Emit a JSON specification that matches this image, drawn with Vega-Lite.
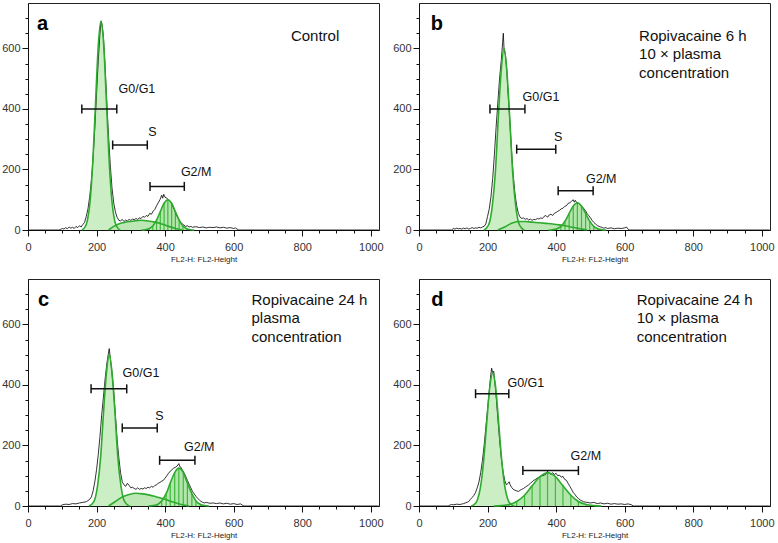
{
"$schema": "https://vega.github.io/schema/vega-lite/v6.json",
"padding": {"left": 1, "top": 2, "right": 0, "bottom": 0},
"background": "white",
"data": {"values": [
{"p":"a","k":"hist","x":0,"y":0},{"p":"a","k":"hist","x":90,"y":0},{"p":"a","k":"hist","x":95,"y":2},{"p":"a","k":"hist","x":100,"y":5},{"p":"a","k":"hist","x":105,"y":3},{"p":"a","k":"hist","x":110,"y":8},{"p":"a","k":"hist","x":115,"y":4},{"p":"a","k":"hist","x":120,"y":10},{"p":"a","k":"hist","x":125,"y":6},{"p":"a","k":"hist","x":130,"y":9},{"p":"a","k":"hist","x":135,"y":5},{"p":"a","k":"hist","x":140,"y":12},{"p":"a","k":"hist","x":145,"y":8},{"p":"a","k":"hist","x":150,"y":14},{"p":"a","k":"hist","x":155,"y":10},{"p":"a","k":"hist","x":160,"y":18},{"p":"a","k":"hist","x":165,"y":25},{"p":"a","k":"hist","x":170,"y":45},{"p":"a","k":"hist","x":175,"y":70},{"p":"a","k":"hist","x":180,"y":110},{"p":"a","k":"hist","x":185,"y":165},{"p":"a","k":"hist","x":190,"y":240},{"p":"a","k":"hist","x":195,"y":340},{"p":"a","k":"hist","x":200,"y":450},{"p":"a","k":"hist","x":205,"y":560},{"p":"a","k":"hist","x":210,"y":650},{"p":"a","k":"hist","x":213,"y":690},{"p":"a","k":"hist","x":216,"y":680},{"p":"a","k":"hist","x":220,"y":640},{"p":"a","k":"hist","x":225,"y":540},{"p":"a","k":"hist","x":230,"y":420},{"p":"a","k":"hist","x":235,"y":310},{"p":"a","k":"hist","x":240,"y":215},{"p":"a","k":"hist","x":245,"y":140},{"p":"a","k":"hist","x":250,"y":90},{"p":"a","k":"hist","x":255,"y":60},{"p":"a","k":"hist","x":260,"y":42},{"p":"a","k":"hist","x":265,"y":32},{"p":"a","k":"hist","x":270,"y":30},{"p":"a","k":"hist","x":275,"y":35},{"p":"a","k":"hist","x":280,"y":28},{"p":"a","k":"hist","x":285,"y":33},{"p":"a","k":"hist","x":290,"y":30},{"p":"a","k":"hist","x":295,"y":35},{"p":"a","k":"hist","x":300,"y":32},{"p":"a","k":"hist","x":305,"y":36},{"p":"a","k":"hist","x":310,"y":34},{"p":"a","k":"hist","x":315,"y":38},{"p":"a","k":"hist","x":320,"y":35},{"p":"a","k":"hist","x":325,"y":40},{"p":"a","k":"hist","x":330,"y":38},{"p":"a","k":"hist","x":335,"y":45},{"p":"a","k":"hist","x":340,"y":42},{"p":"a","k":"hist","x":345,"y":48},{"p":"a","k":"hist","x":350,"y":45},{"p":"a","k":"hist","x":355,"y":55},{"p":"a","k":"hist","x":360,"y":52},{"p":"a","k":"hist","x":365,"y":62},{"p":"a","k":"hist","x":370,"y":68},{"p":"a","k":"hist","x":375,"y":80},{"p":"a","k":"hist","x":380,"y":90},{"p":"a","k":"hist","x":385,"y":100},{"p":"a","k":"hist","x":390,"y":115},{"p":"a","k":"hist","x":393,"y":105},{"p":"a","k":"hist","x":396,"y":118},{"p":"a","k":"hist","x":400,"y":108},{"p":"a","k":"hist","x":405,"y":105},{"p":"a","k":"hist","x":410,"y":100},{"p":"a","k":"hist","x":415,"y":95},{"p":"a","k":"hist","x":420,"y":85},{"p":"a","k":"hist","x":425,"y":72},{"p":"a","k":"hist","x":430,"y":58},{"p":"a","k":"hist","x":435,"y":45},{"p":"a","k":"hist","x":440,"y":35},{"p":"a","k":"hist","x":445,"y":26},{"p":"a","k":"hist","x":450,"y":20},{"p":"a","k":"hist","x":455,"y":16},{"p":"a","k":"hist","x":460,"y":12},{"p":"a","k":"hist","x":465,"y":14},{"p":"a","k":"hist","x":470,"y":10},{"p":"a","k":"hist","x":475,"y":12},{"p":"a","k":"hist","x":480,"y":9},{"p":"a","k":"hist","x":490,"y":11},{"p":"a","k":"hist","x":500,"y":8},{"p":"a","k":"hist","x":510,"y":10},{"p":"a","k":"hist","x":520,"y":7},{"p":"a","k":"hist","x":530,"y":9},{"p":"a","k":"hist","x":540,"y":8},{"p":"a","k":"hist","x":550,"y":10},{"p":"a","k":"hist","x":560,"y":7},{"p":"a","k":"hist","x":570,"y":9},{"p":"a","k":"hist","x":580,"y":6},{"p":"a","k":"hist","x":590,"y":8},{"p":"a","k":"hist","x":600,"y":5},{"p":"a","k":"hist","x":605,"y":7},{"p":"a","k":"hist","x":610,"y":3},{"p":"a","k":"hist","x":615,"y":0},{"p":"a","k":"hist","x":1023,"y":0},
{"p":"a","k":"g1","x":157,"y":0},{"p":"a","k":"g1","x":165,"y":7.7},{"p":"a","k":"g1","x":173,"y":30.3},{"p":"a","k":"g1","x":181,"y":93.4},{"p":"a","k":"g1","x":189,"y":224},{"p":"a","k":"g1","x":197,"y":418.5},{"p":"a","k":"g1","x":205,"y":608.9},{"p":"a","k":"g1","x":213,"y":690},{"p":"a","k":"g1","x":221,"y":608.9},{"p":"a","k":"g1","x":229,"y":418.5},{"p":"a","k":"g1","x":237,"y":224},{"p":"a","k":"g1","x":245,"y":93.4},{"p":"a","k":"g1","x":253,"y":30.3},{"p":"a","k":"g1","x":261,"y":7.7},{"p":"a","k":"g1","x":269,"y":0},
{"p":"a","k":"g2","x":331,"y":0},{"p":"a","k":"g2","x":342,"y":1.1},{"p":"a","k":"g2","x":353,"y":4.4},{"p":"a","k":"g2","x":364,"y":13.5},{"p":"a","k":"g2","x":375,"y":32.5},{"p":"a","k":"g2","x":386,"y":60.7},{"p":"a","k":"g2","x":397,"y":88.3},{"p":"a","k":"g2","x":408,"y":100},{"p":"a","k":"g2","x":419,"y":88.3},{"p":"a","k":"g2","x":430,"y":60.7},{"p":"a","k":"g2","x":441,"y":32.5},{"p":"a","k":"g2","x":452,"y":13.5},{"p":"a","k":"g2","x":463,"y":4.4},{"p":"a","k":"g2","x":474,"y":1.1},{"p":"a","k":"g2","x":485,"y":0},
{"p":"a","k":"s","x":235,"y":0},{"p":"a","k":"s","x":250,"y":12},{"p":"a","k":"s","x":270,"y":22},{"p":"a","k":"s","x":290,"y":27},{"p":"a","k":"s","x":310,"y":30},{"p":"a","k":"s","x":330,"y":32},{"p":"a","k":"s","x":350,"y":30},{"p":"a","k":"s","x":370,"y":26},{"p":"a","k":"s","x":390,"y":20},{"p":"a","k":"s","x":410,"y":12},{"p":"a","k":"s","x":430,"y":5},{"p":"a","k":"s","x":450,"y":0},
{"p":"a","k":"bar","x":157,"x2":259,"y":400},{"p":"a","k":"bar","x":247,"x2":348,"y":281},{"p":"a","k":"bar","x":356,"x2":456,"y":144},
{"p":"a","k":"lab","x":264,"y":465,"t":"G0/G1"},{"p":"a","k":"lab","x":351,"y":324,"t":"S"},{"p":"a","k":"lab","x":446,"y":190,"t":"G2/M"},
{"p":"a","k":"ttl","x":767,"y":640,"t":"Control"},
{"p":"a","k":"let","x":26,"y":662,"t":"a"},

{"p":"b","k":"hist","x":0,"y":0},{"p":"b","k":"hist","x":95,"y":0},{"p":"b","k":"hist","x":100,"y":5},{"p":"b","k":"hist","x":105,"y":3},{"p":"b","k":"hist","x":110,"y":6},{"p":"b","k":"hist","x":115,"y":4},{"p":"b","k":"hist","x":120,"y":5},{"p":"b","k":"hist","x":125,"y":3},{"p":"b","k":"hist","x":130,"y":6},{"p":"b","k":"hist","x":135,"y":4},{"p":"b","k":"hist","x":140,"y":7},{"p":"b","k":"hist","x":145,"y":3},{"p":"b","k":"hist","x":150,"y":5},{"p":"b","k":"hist","x":155,"y":8},{"p":"b","k":"hist","x":160,"y":5},{"p":"b","k":"hist","x":165,"y":7},{"p":"b","k":"hist","x":170,"y":6},{"p":"b","k":"hist","x":175,"y":9},{"p":"b","k":"hist","x":180,"y":7},{"p":"b","k":"hist","x":185,"y":10},{"p":"b","k":"hist","x":190,"y":12},{"p":"b","k":"hist","x":195,"y":20},{"p":"b","k":"hist","x":200,"y":45},{"p":"b","k":"hist","x":205,"y":70},{"p":"b","k":"hist","x":210,"y":110},{"p":"b","k":"hist","x":215,"y":170},{"p":"b","k":"hist","x":220,"y":250},{"p":"b","k":"hist","x":225,"y":340},{"p":"b","k":"hist","x":230,"y":420},{"p":"b","k":"hist","x":235,"y":500},{"p":"b","k":"hist","x":240,"y":560},{"p":"b","k":"hist","x":244,"y":620},{"p":"b","k":"hist","x":246,"y":650},{"p":"b","k":"hist","x":248,"y":600},{"p":"b","k":"hist","x":252,"y":580},{"p":"b","k":"hist","x":256,"y":530},{"p":"b","k":"hist","x":260,"y":450},{"p":"b","k":"hist","x":265,"y":360},{"p":"b","k":"hist","x":270,"y":260},{"p":"b","k":"hist","x":275,"y":180},{"p":"b","k":"hist","x":280,"y":120},{"p":"b","k":"hist","x":285,"y":80},{"p":"b","k":"hist","x":290,"y":55},{"p":"b","k":"hist","x":295,"y":42},{"p":"b","k":"hist","x":300,"y":38},{"p":"b","k":"hist","x":305,"y":40},{"p":"b","k":"hist","x":310,"y":35},{"p":"b","k":"hist","x":315,"y":38},{"p":"b","k":"hist","x":320,"y":33},{"p":"b","k":"hist","x":325,"y":36},{"p":"b","k":"hist","x":330,"y":32},{"p":"b","k":"hist","x":335,"y":35},{"p":"b","k":"hist","x":340,"y":34},{"p":"b","k":"hist","x":345,"y":38},{"p":"b","k":"hist","x":350,"y":36},{"p":"b","k":"hist","x":355,"y":40},{"p":"b","k":"hist","x":360,"y":38},{"p":"b","k":"hist","x":365,"y":45},{"p":"b","k":"hist","x":370,"y":48},{"p":"b","k":"hist","x":375,"y":42},{"p":"b","k":"hist","x":380,"y":50},{"p":"b","k":"hist","x":385,"y":52},{"p":"b","k":"hist","x":390,"y":48},{"p":"b","k":"hist","x":395,"y":55},{"p":"b","k":"hist","x":400,"y":58},{"p":"b","k":"hist","x":405,"y":62},{"p":"b","k":"hist","x":410,"y":65},{"p":"b","k":"hist","x":415,"y":70},{"p":"b","k":"hist","x":420,"y":72},{"p":"b","k":"hist","x":425,"y":78},{"p":"b","k":"hist","x":430,"y":80},{"p":"b","k":"hist","x":435,"y":88},{"p":"b","k":"hist","x":440,"y":90},{"p":"b","k":"hist","x":445,"y":95},{"p":"b","k":"hist","x":450,"y":100},{"p":"b","k":"hist","x":453,"y":92},{"p":"b","k":"hist","x":456,"y":98},{"p":"b","k":"hist","x":460,"y":90},{"p":"b","k":"hist","x":465,"y":88},{"p":"b","k":"hist","x":470,"y":85},{"p":"b","k":"hist","x":475,"y":78},{"p":"b","k":"hist","x":480,"y":72},{"p":"b","k":"hist","x":485,"y":65},{"p":"b","k":"hist","x":490,"y":55},{"p":"b","k":"hist","x":495,"y":48},{"p":"b","k":"hist","x":500,"y":40},{"p":"b","k":"hist","x":505,"y":32},{"p":"b","k":"hist","x":510,"y":25},{"p":"b","k":"hist","x":515,"y":20},{"p":"b","k":"hist","x":520,"y":15},{"p":"b","k":"hist","x":525,"y":12},{"p":"b","k":"hist","x":530,"y":10},{"p":"b","k":"hist","x":535,"y":8},{"p":"b","k":"hist","x":540,"y":6},{"p":"b","k":"hist","x":545,"y":8},{"p":"b","k":"hist","x":550,"y":5},{"p":"b","k":"hist","x":560,"y":7},{"p":"b","k":"hist","x":570,"y":4},{"p":"b","k":"hist","x":580,"y":6},{"p":"b","k":"hist","x":590,"y":5},{"p":"b","k":"hist","x":600,"y":7},{"p":"b","k":"hist","x":605,"y":10},{"p":"b","k":"hist","x":610,"y":3},{"p":"b","k":"hist","x":612,"y":0},{"p":"b","k":"hist","x":1023,"y":0},
{"p":"b","k":"g1","x":189,"y":0},{"p":"b","k":"g1","x":197,"y":6.7},{"p":"b","k":"g1","x":206,"y":26.3},{"p":"b","k":"g1","x":214,"y":81.2},{"p":"b","k":"g1","x":223,"y":194.8},{"p":"b","k":"g1","x":231,"y":363.9},{"p":"b","k":"g1","x":240,"y":529.5},{"p":"b","k":"g1","x":248,"y":600},{"p":"b","k":"g1","x":256,"y":529.5},{"p":"b","k":"g1","x":265,"y":363.9},{"p":"b","k":"g1","x":273,"y":194.8},{"p":"b","k":"g1","x":282,"y":81.2},{"p":"b","k":"g1","x":290,"y":26.3},{"p":"b","k":"g1","x":299,"y":6.7},{"p":"b","k":"g1","x":307,"y":0},
{"p":"b","k":"g2","x":378,"y":0},{"p":"b","k":"g2","x":390,"y":1},{"p":"b","k":"g2","x":402,"y":4},{"p":"b","k":"g2","x":414,"y":12.2},{"p":"b","k":"g2","x":426,"y":29.2},{"p":"b","k":"g2","x":438,"y":54.6},{"p":"b","k":"g2","x":450,"y":79.4},{"p":"b","k":"g2","x":462,"y":90},{"p":"b","k":"g2","x":474,"y":79.4},{"p":"b","k":"g2","x":486,"y":54.6},{"p":"b","k":"g2","x":498,"y":29.2},{"p":"b","k":"g2","x":510,"y":12.2},{"p":"b","k":"g2","x":522,"y":4},{"p":"b","k":"g2","x":534,"y":1},{"p":"b","k":"g2","x":546,"y":0},
{"p":"b","k":"s","x":230,"y":0},{"p":"b","k":"s","x":250,"y":10},{"p":"b","k":"s","x":270,"y":22},{"p":"b","k":"s","x":290,"y":28},{"p":"b","k":"s","x":310,"y":28},{"p":"b","k":"s","x":330,"y":26},{"p":"b","k":"s","x":350,"y":24},{"p":"b","k":"s","x":370,"y":22},{"p":"b","k":"s","x":390,"y":20},{"p":"b","k":"s","x":410,"y":17},{"p":"b","k":"s","x":430,"y":13},{"p":"b","k":"s","x":450,"y":8},{"p":"b","k":"s","x":470,"y":4},{"p":"b","k":"s","x":490,"y":0},
{"p":"b","k":"bar","x":207,"x2":309,"y":400},{"p":"b","k":"bar","x":285,"x2":399,"y":267},{"p":"b","k":"bar","x":406,"x2":508,"y":130},
{"p":"b","k":"lab","x":302,"y":440,"t":"G0/G1"},{"p":"b","k":"lab","x":394,"y":307,"t":"S"},{"p":"b","k":"lab","x":487,"y":168,"t":"G2/M"},
{"p":"b","k":"ttl","x":642,"y":640,"t":"Ropivacaine 6 h"},{"p":"b","k":"ttl","x":642,"y":580,"t":"10 × plasma"},{"p":"b","k":"ttl","x":642,"y":520,"t":"concentration"},
{"p":"b","k":"let","x":34,"y":662,"t":"b"},

{"p":"c","k":"hist","x":0,"y":0},{"p":"c","k":"hist","x":95,"y":0},{"p":"c","k":"hist","x":100,"y":4},{"p":"c","k":"hist","x":110,"y":6},{"p":"c","k":"hist","x":120,"y":5},{"p":"c","k":"hist","x":130,"y":8},{"p":"c","k":"hist","x":140,"y":7},{"p":"c","k":"hist","x":150,"y":10},{"p":"c","k":"hist","x":160,"y":12},{"p":"c","k":"hist","x":170,"y":14},{"p":"c","k":"hist","x":175,"y":18},{"p":"c","k":"hist","x":180,"y":22},{"p":"c","k":"hist","x":185,"y":30},{"p":"c","k":"hist","x":190,"y":50},{"p":"c","k":"hist","x":195,"y":80},{"p":"c","k":"hist","x":200,"y":120},{"p":"c","k":"hist","x":205,"y":170},{"p":"c","k":"hist","x":210,"y":230},{"p":"c","k":"hist","x":215,"y":300},{"p":"c","k":"hist","x":220,"y":360},{"p":"c","k":"hist","x":225,"y":420},{"p":"c","k":"hist","x":230,"y":470},{"p":"c","k":"hist","x":234,"y":500},{"p":"c","k":"hist","x":237,"y":520},{"p":"c","k":"hist","x":240,"y":490},{"p":"c","k":"hist","x":245,"y":440},{"p":"c","k":"hist","x":250,"y":380},{"p":"c","k":"hist","x":255,"y":300},{"p":"c","k":"hist","x":260,"y":220},{"p":"c","k":"hist","x":265,"y":160},{"p":"c","k":"hist","x":270,"y":110},{"p":"c","k":"hist","x":275,"y":80},{"p":"c","k":"hist","x":280,"y":70},{"p":"c","k":"hist","x":285,"y":65},{"p":"c","k":"hist","x":290,"y":75},{"p":"c","k":"hist","x":295,"y":68},{"p":"c","k":"hist","x":300,"y":60},{"p":"c","k":"hist","x":305,"y":62},{"p":"c","k":"hist","x":310,"y":58},{"p":"c","k":"hist","x":315,"y":55},{"p":"c","k":"hist","x":320,"y":60},{"p":"c","k":"hist","x":325,"y":55},{"p":"c","k":"hist","x":330,"y":58},{"p":"c","k":"hist","x":335,"y":56},{"p":"c","k":"hist","x":340,"y":60},{"p":"c","k":"hist","x":345,"y":58},{"p":"c","k":"hist","x":350,"y":62},{"p":"c","k":"hist","x":355,"y":60},{"p":"c","k":"hist","x":360,"y":65},{"p":"c","k":"hist","x":365,"y":62},{"p":"c","k":"hist","x":370,"y":68},{"p":"c","k":"hist","x":375,"y":70},{"p":"c","k":"hist","x":380,"y":75},{"p":"c","k":"hist","x":385,"y":78},{"p":"c","k":"hist","x":390,"y":82},{"p":"c","k":"hist","x":395,"y":85},{"p":"c","k":"hist","x":400,"y":92},{"p":"c","k":"hist","x":405,"y":100},{"p":"c","k":"hist","x":410,"y":108},{"p":"c","k":"hist","x":415,"y":115},{"p":"c","k":"hist","x":420,"y":120},{"p":"c","k":"hist","x":425,"y":125},{"p":"c","k":"hist","x":430,"y":128},{"p":"c","k":"hist","x":435,"y":132},{"p":"c","k":"hist","x":440,"y":140},{"p":"c","k":"hist","x":443,"y":130},{"p":"c","k":"hist","x":446,"y":128},{"p":"c","k":"hist","x":450,"y":120},{"p":"c","k":"hist","x":455,"y":110},{"p":"c","k":"hist","x":460,"y":98},{"p":"c","k":"hist","x":465,"y":85},{"p":"c","k":"hist","x":470,"y":72},{"p":"c","k":"hist","x":475,"y":60},{"p":"c","k":"hist","x":480,"y":48},{"p":"c","k":"hist","x":485,"y":40},{"p":"c","k":"hist","x":490,"y":32},{"p":"c","k":"hist","x":495,"y":25},{"p":"c","k":"hist","x":500,"y":20},{"p":"c","k":"hist","x":505,"y":15},{"p":"c","k":"hist","x":510,"y":12},{"p":"c","k":"hist","x":515,"y":10},{"p":"c","k":"hist","x":520,"y":12},{"p":"c","k":"hist","x":530,"y":9},{"p":"c","k":"hist","x":540,"y":10},{"p":"c","k":"hist","x":550,"y":8},{"p":"c","k":"hist","x":560,"y":10},{"p":"c","k":"hist","x":570,"y":7},{"p":"c","k":"hist","x":580,"y":9},{"p":"c","k":"hist","x":590,"y":6},{"p":"c","k":"hist","x":600,"y":8},{"p":"c","k":"hist","x":610,"y":5},{"p":"c","k":"hist","x":620,"y":7},{"p":"c","k":"hist","x":625,"y":3},{"p":"c","k":"hist","x":630,"y":0},{"p":"c","k":"hist","x":1023,"y":0},
{"p":"c","k":"g1","x":178,"y":0},{"p":"c","k":"g1","x":186,"y":5.6},{"p":"c","k":"g1","x":195,"y":22},{"p":"c","k":"g1","x":203,"y":67.7},{"p":"c","k":"g1","x":212,"y":162.4},{"p":"c","k":"g1","x":220,"y":303.3},{"p":"c","k":"g1","x":229,"y":441.3},{"p":"c","k":"g1","x":237,"y":500},{"p":"c","k":"g1","x":245,"y":441.3},{"p":"c","k":"g1","x":254,"y":303.3},{"p":"c","k":"g1","x":262,"y":162.4},{"p":"c","k":"g1","x":271,"y":67.7},{"p":"c","k":"g1","x":279,"y":22},{"p":"c","k":"g1","x":288,"y":5.6},{"p":"c","k":"g1","x":296,"y":0},
{"p":"c","k":"g2","x":352,"y":0},{"p":"c","k":"g2","x":365,"y":1.4},{"p":"c","k":"g2","x":378,"y":5.5},{"p":"c","k":"g2","x":390,"y":16.9},{"p":"c","k":"g2","x":403,"y":40.6},{"p":"c","k":"g2","x":415,"y":75.8},{"p":"c","k":"g2","x":428,"y":110.3},{"p":"c","k":"g2","x":440,"y":125},{"p":"c","k":"g2","x":453,"y":110.3},{"p":"c","k":"g2","x":465,"y":75.8},{"p":"c","k":"g2","x":478,"y":40.6},{"p":"c","k":"g2","x":490,"y":16.9},{"p":"c","k":"g2","x":503,"y":5.5},{"p":"c","k":"g2","x":515,"y":1.4},{"p":"c","k":"g2","x":528,"y":0},
{"p":"c","k":"s","x":235,"y":0},{"p":"c","k":"s","x":255,"y":15},{"p":"c","k":"s","x":275,"y":30},{"p":"c","k":"s","x":295,"y":38},{"p":"c","k":"s","x":315,"y":42},{"p":"c","k":"s","x":335,"y":40},{"p":"c","k":"s","x":355,"y":36},{"p":"c","k":"s","x":375,"y":30},{"p":"c","k":"s","x":395,"y":24},{"p":"c","k":"s","x":415,"y":16},{"p":"c","k":"s","x":435,"y":9},{"p":"c","k":"s","x":455,"y":3},{"p":"c","k":"s","x":470,"y":0},
{"p":"c","k":"bar","x":184,"x2":288,"y":387},{"p":"c","k":"bar","x":275,"x2":377,"y":258},{"p":"c","k":"bar","x":384,"x2":487,"y":151},
{"p":"c","k":"lab","x":276,"y":439,"t":"G0/G1"},{"p":"c","k":"lab","x":371,"y":296,"t":"S"},{"p":"c","k":"lab","x":455,"y":195,"t":"G2/M"},
{"p":"c","k":"ttl","x":652,"y":680,"t":"Ropivacaine 24 h"},{"p":"c","k":"ttl","x":652,"y":620,"t":"plasma"},{"p":"c","k":"ttl","x":652,"y":560,"t":"concentration"},
{"p":"c","k":"let","x":29,"y":660,"t":"c"},

{"p":"d","k":"hist","x":0,"y":0},{"p":"d","k":"hist","x":85,"y":0},{"p":"d","k":"hist","x":90,"y":3},{"p":"d","k":"hist","x":95,"y":5},{"p":"d","k":"hist","x":100,"y":4},{"p":"d","k":"hist","x":110,"y":6},{"p":"d","k":"hist","x":120,"y":5},{"p":"d","k":"hist","x":130,"y":8},{"p":"d","k":"hist","x":140,"y":12},{"p":"d","k":"hist","x":145,"y":15},{"p":"d","k":"hist","x":150,"y":22},{"p":"d","k":"hist","x":155,"y":28},{"p":"d","k":"hist","x":160,"y":35},{"p":"d","k":"hist","x":165,"y":45},{"p":"d","k":"hist","x":170,"y":60},{"p":"d","k":"hist","x":175,"y":80},{"p":"d","k":"hist","x":180,"y":110},{"p":"d","k":"hist","x":185,"y":150},{"p":"d","k":"hist","x":190,"y":200},{"p":"d","k":"hist","x":195,"y":260},{"p":"d","k":"hist","x":200,"y":320},{"p":"d","k":"hist","x":205,"y":380},{"p":"d","k":"hist","x":209,"y":430},{"p":"d","k":"hist","x":212,"y":455},{"p":"d","k":"hist","x":215,"y":440},{"p":"d","k":"hist","x":218,"y":445},{"p":"d","k":"hist","x":222,"y":400},{"p":"d","k":"hist","x":226,"y":350},{"p":"d","k":"hist","x":230,"y":290},{"p":"d","k":"hist","x":235,"y":220},{"p":"d","k":"hist","x":240,"y":160},{"p":"d","k":"hist","x":245,"y":115},{"p":"d","k":"hist","x":250,"y":85},{"p":"d","k":"hist","x":255,"y":70},{"p":"d","k":"hist","x":260,"y":75},{"p":"d","k":"hist","x":263,"y":80},{"p":"d","k":"hist","x":266,"y":70},{"p":"d","k":"hist","x":270,"y":62},{"p":"d","k":"hist","x":275,"y":55},{"p":"d","k":"hist","x":280,"y":52},{"p":"d","k":"hist","x":285,"y":50},{"p":"d","k":"hist","x":290,"y":48},{"p":"d","k":"hist","x":295,"y":52},{"p":"d","k":"hist","x":300,"y":55},{"p":"d","k":"hist","x":305,"y":58},{"p":"d","k":"hist","x":310,"y":62},{"p":"d","k":"hist","x":315,"y":66},{"p":"d","k":"hist","x":320,"y":70},{"p":"d","k":"hist","x":325,"y":75},{"p":"d","k":"hist","x":330,"y":80},{"p":"d","k":"hist","x":335,"y":85},{"p":"d","k":"hist","x":340,"y":88},{"p":"d","k":"hist","x":345,"y":92},{"p":"d","k":"hist","x":350,"y":95},{"p":"d","k":"hist","x":355,"y":98},{"p":"d","k":"hist","x":360,"y":100},{"p":"d","k":"hist","x":365,"y":102},{"p":"d","k":"hist","x":370,"y":105},{"p":"d","k":"hist","x":375,"y":115},{"p":"d","k":"hist","x":380,"y":108},{"p":"d","k":"hist","x":385,"y":105},{"p":"d","k":"hist","x":390,"y":110},{"p":"d","k":"hist","x":395,"y":104},{"p":"d","k":"hist","x":400,"y":108},{"p":"d","k":"hist","x":405,"y":100},{"p":"d","k":"hist","x":410,"y":102},{"p":"d","k":"hist","x":415,"y":95},{"p":"d","k":"hist","x":420,"y":98},{"p":"d","k":"hist","x":425,"y":88},{"p":"d","k":"hist","x":430,"y":85},{"p":"d","k":"hist","x":435,"y":75},{"p":"d","k":"hist","x":440,"y":65},{"p":"d","k":"hist","x":445,"y":55},{"p":"d","k":"hist","x":450,"y":45},{"p":"d","k":"hist","x":455,"y":38},{"p":"d","k":"hist","x":460,"y":30},{"p":"d","k":"hist","x":465,"y":25},{"p":"d","k":"hist","x":470,"y":20},{"p":"d","k":"hist","x":475,"y":17},{"p":"d","k":"hist","x":480,"y":14},{"p":"d","k":"hist","x":490,"y":12},{"p":"d","k":"hist","x":500,"y":10},{"p":"d","k":"hist","x":510,"y":12},{"p":"d","k":"hist","x":520,"y":8},{"p":"d","k":"hist","x":530,"y":10},{"p":"d","k":"hist","x":540,"y":7},{"p":"d","k":"hist","x":550,"y":9},{"p":"d","k":"hist","x":560,"y":6},{"p":"d","k":"hist","x":570,"y":8},{"p":"d","k":"hist","x":580,"y":6},{"p":"d","k":"hist","x":590,"y":7},{"p":"d","k":"hist","x":600,"y":5},{"p":"d","k":"hist","x":610,"y":7},{"p":"d","k":"hist","x":620,"y":4},{"p":"d","k":"hist","x":625,"y":0},{"p":"d","k":"hist","x":1023,"y":0},
{"p":"d","k":"g1","x":152,"y":0},{"p":"d","k":"g1","x":161,"y":4.9},{"p":"d","k":"g1","x":170,"y":19.3},{"p":"d","k":"g1","x":179,"y":59.5},{"p":"d","k":"g1","x":188,"y":142.9},{"p":"d","k":"g1","x":197,"y":266.9},{"p":"d","k":"g1","x":206,"y":388.3},{"p":"d","k":"g1","x":215,"y":440},{"p":"d","k":"g1","x":224,"y":388.3},{"p":"d","k":"g1","x":233,"y":266.9},{"p":"d","k":"g1","x":242,"y":142.9},{"p":"d","k":"g1","x":251,"y":59.5},{"p":"d","k":"g1","x":260,"y":19.3},{"p":"d","k":"g1","x":269,"y":4.9},{"p":"d","k":"g1","x":278,"y":0},
{"p":"d","k":"g2","x":218,"y":0},{"p":"d","k":"g2","x":240,"y":1.2},{"p":"d","k":"g2","x":263,"y":4.8},{"p":"d","k":"g2","x":285,"y":14.9},{"p":"d","k":"g2","x":308,"y":35.7},{"p":"d","k":"g2","x":330,"y":66.7},{"p":"d","k":"g2","x":353,"y":97.1},{"p":"d","k":"g2","x":375,"y":110},{"p":"d","k":"g2","x":398,"y":97.1},{"p":"d","k":"g2","x":420,"y":66.7},{"p":"d","k":"g2","x":443,"y":35.7},{"p":"d","k":"g2","x":465,"y":14.9},{"p":"d","k":"g2","x":488,"y":4.8},{"p":"d","k":"g2","x":510,"y":1.2},{"p":"d","k":"g2","x":532,"y":0},
{"p":"d","k":"bar","x":165,"x2":262,"y":371},{"p":"d","k":"bar","x":303,"x2":465,"y":117},
{"p":"d","k":"lab","x":258,"y":405,"t":"G0/G1"},{"p":"d","k":"lab","x":442,"y":164,"t":"G2/M"},
{"p":"d","k":"ttl","x":635,"y":680,"t":"Ropivacaine 24 h"},{"p":"d","k":"ttl","x":635,"y":620,"t":"10 × plasma"},{"p":"d","k":"ttl","x":635,"y":560,"t":"concentration"},
{"p":"d","k":"let","x":36,"y":660,"t":"d"}
]},
"spacing": 14,
"vconcat": [
 {"spacing": 8, "hconcat": [
  {"transform": [{"filter": "datum.p === 'a'"}], "width": 351, "height": 227,
   "encoding": {
    "x": {"field": "x", "type": "quantitative", "scale": {"domain": [0, 1024], "nice": false},
      "axis": {"title": "FL2-H: FL2-Height", "values": [0,50,100,150,200,250,300,350,400,450,500,550,600,650,700,750,800,850,900,950,1000], "format": "d",
        "labelExpr": "datum.value % 200 === 0 ? datum.label : ''",
        "tickSize": {"condition": {"test": "datum.value % 200 === 0", "value": 6}, "value": 3}}},
    "y": {"field": "y", "type": "quantitative", "scale": {"domain": [0, 750], "nice": false},
      "axis": {"title": null, "values": [0,50,100,150,200,250,300,350,400,450,500,550,600,650,700], "format": "d",
        "labelExpr": "datum.value % 200 === 0 ? datum.label : ''",
        "tickSize": {"condition": {"test": "datum.value % 200 === 0", "value": 6}, "value": 3}}}
   },
   "layer": [
    {"transform": [{"filter": "datum.k === 's' || datum.k === 'g1' || datum.k === 'g2'"}],
     "mark": {"type": "area", "interpolate": "monotone", "fillOpacity": 1},
     "encoding": {"y": {"field": "y", "type": "quantitative", "stack": null},
       "color": {"field": "k", "type": "nominal", "legend": null, "scale": {"domain": ["s", "g1", "g2"], "range": ["#bde8b5", "#cbeec5", "#b3e6ac"]}}}},
    {"transform": [{"filter": "datum.k === 'g2'"}], "mark": {"type": "rule", "color": "#3fb83b", "strokeWidth": 1.2}, "encoding": {"y2": {"datum": 0}}},
    {"transform": [{"filter": "datum.k === 'hist'"}], "mark": {"type": "line", "color": "#000000", "strokeWidth": 0.8}, "encoding": {}},
    {"transform": [{"filter": "datum.k === 's' || datum.k === 'g1' || datum.k === 'g2'"}],
     "mark": {"type": "line", "interpolate": "monotone", "color": "#2eaa2e", "strokeWidth": 1.6}, "encoding": {"detail": {"field": "k", "type": "nominal"}}},
    {"transform": [{"filter": "datum.k === 'bar'"}], "mark": {"type": "rule", "color": "#111111", "strokeWidth": 1.5}, "encoding": {"x2": {"field": "x2"}}},
    {"transform": [{"filter": "datum.k === 'bar'"}], "mark": {"type": "point", "shape": "M0,-1L0,1", "size": 81, "filled": false, "stroke": "#111111", "strokeWidth": 1.5, "opacity": 1}, "encoding": {}},
    {"transform": [{"filter": "datum.k === 'bar'"}], "mark": {"type": "point", "shape": "M0,-1L0,1", "size": 81, "filled": false, "stroke": "#111111", "strokeWidth": 1.5, "opacity": 1},
     "encoding": {"x": {"field": "x2", "type": "quantitative", "title": "FL2-H: FL2-Height"}}},
    {"transform": [{"filter": "datum.k === 'lab'"}], "mark": {"type": "text", "align": "left", "baseline": "middle", "fontSize": 12.5, "font": "Liberation Sans", "color": "#111111"}, "encoding": {"text": {"field": "t", "type": "nominal"}}},
    {"transform": [{"filter": "datum.k === 'ttl'"}], "mark": {"type": "text", "align": "left", "baseline": "middle", "fontSize": 15, "font": "Liberation Sans", "color": "#111111"}, "encoding": {"text": {"field": "t", "type": "nominal"}}},
    {"transform": [{"filter": "datum.k === 'let'"}], "mark": {"type": "text", "align": "left", "baseline": "alphabetic", "fontSize": 20, "fontWeight": "bold", "font": "Liberation Sans", "color": "#000000"}, "encoding": {"text": {"field": "t", "type": "nominal"}}}
   ]},
  {"transform": [{"filter": "datum.p === 'b'"}], "width": 351, "height": 227,
   "encoding": {
    "x": {"field": "x", "type": "quantitative", "scale": {"domain": [0, 1024], "nice": false},
      "axis": {"title": "FL2-H: FL2-Height", "values": [0,50,100,150,200,250,300,350,400,450,500,550,600,650,700,750,800,850,900,950,1000], "format": "d",
        "labelExpr": "datum.value % 200 === 0 ? datum.label : ''",
        "tickSize": {"condition": {"test": "datum.value % 200 === 0", "value": 6}, "value": 3}}},
    "y": {"field": "y", "type": "quantitative", "scale": {"domain": [0, 750], "nice": false},
      "axis": {"title": null, "values": [0,50,100,150,200,250,300,350,400,450,500,550,600,650,700], "format": "d",
        "labelExpr": "datum.value % 200 === 0 ? datum.label : ''",
        "tickSize": {"condition": {"test": "datum.value % 200 === 0", "value": 6}, "value": 3}}}
   },
   "layer": [
    {"transform": [{"filter": "datum.k === 's' || datum.k === 'g1' || datum.k === 'g2'"}],
     "mark": {"type": "area", "interpolate": "monotone", "fillOpacity": 1},
     "encoding": {"y": {"field": "y", "type": "quantitative", "stack": null},
       "color": {"field": "k", "type": "nominal", "legend": null, "scale": {"domain": ["s", "g1", "g2"], "range": ["#bde8b5", "#cbeec5", "#b3e6ac"]}}}},
    {"transform": [{"filter": "datum.k === 'g2'"}], "mark": {"type": "rule", "color": "#3fb83b", "strokeWidth": 1.2}, "encoding": {"y2": {"datum": 0}}},
    {"transform": [{"filter": "datum.k === 'hist'"}], "mark": {"type": "line", "color": "#000000", "strokeWidth": 0.8}, "encoding": {}},
    {"transform": [{"filter": "datum.k === 's' || datum.k === 'g1' || datum.k === 'g2'"}],
     "mark": {"type": "line", "interpolate": "monotone", "color": "#2eaa2e", "strokeWidth": 1.6}, "encoding": {"detail": {"field": "k", "type": "nominal"}}},
    {"transform": [{"filter": "datum.k === 'bar'"}], "mark": {"type": "rule", "color": "#111111", "strokeWidth": 1.5}, "encoding": {"x2": {"field": "x2"}}},
    {"transform": [{"filter": "datum.k === 'bar'"}], "mark": {"type": "point", "shape": "M0,-1L0,1", "size": 81, "filled": false, "stroke": "#111111", "strokeWidth": 1.5, "opacity": 1}, "encoding": {}},
    {"transform": [{"filter": "datum.k === 'bar'"}], "mark": {"type": "point", "shape": "M0,-1L0,1", "size": 81, "filled": false, "stroke": "#111111", "strokeWidth": 1.5, "opacity": 1},
     "encoding": {"x": {"field": "x2", "type": "quantitative", "title": "FL2-H: FL2-Height"}}},
    {"transform": [{"filter": "datum.k === 'lab'"}], "mark": {"type": "text", "align": "left", "baseline": "middle", "fontSize": 12.5, "font": "Liberation Sans", "color": "#111111"}, "encoding": {"text": {"field": "t", "type": "nominal"}}},
    {"transform": [{"filter": "datum.k === 'ttl'"}], "mark": {"type": "text", "align": "left", "baseline": "middle", "fontSize": 15, "font": "Liberation Sans", "color": "#111111"}, "encoding": {"text": {"field": "t", "type": "nominal"}}},
    {"transform": [{"filter": "datum.k === 'let'"}], "mark": {"type": "text", "align": "left", "baseline": "alphabetic", "fontSize": 20, "fontWeight": "bold", "font": "Liberation Sans", "color": "#000000"}, "encoding": {"text": {"field": "t", "type": "nominal"}}}
   ]}
 ]},
 {"spacing": 8, "hconcat": [
  {"transform": [{"filter": "datum.p === 'c'"}], "width": 351, "height": 227,
   "encoding": {
    "x": {"field": "x", "type": "quantitative", "scale": {"domain": [0, 1024], "nice": false},
      "axis": {"title": "FL2-H: FL2-Height", "values": [0,50,100,150,200,250,300,350,400,450,500,550,600,650,700,750,800,850,900,950,1000], "format": "d",
        "labelExpr": "datum.value % 200 === 0 ? datum.label : ''",
        "tickSize": {"condition": {"test": "datum.value % 200 === 0", "value": 6}, "value": 3}}},
    "y": {"field": "y", "type": "quantitative", "scale": {"domain": [0, 750], "nice": false},
      "axis": {"title": null, "values": [0,50,100,150,200,250,300,350,400,450,500,550,600,650,700], "format": "d",
        "labelExpr": "datum.value % 200 === 0 ? datum.label : ''",
        "tickSize": {"condition": {"test": "datum.value % 200 === 0", "value": 6}, "value": 3}}}
   },
   "layer": [
    {"transform": [{"filter": "datum.k === 's' || datum.k === 'g1' || datum.k === 'g2'"}],
     "mark": {"type": "area", "interpolate": "monotone", "fillOpacity": 1},
     "encoding": {"y": {"field": "y", "type": "quantitative", "stack": null},
       "color": {"field": "k", "type": "nominal", "legend": null, "scale": {"domain": ["s", "g1", "g2"], "range": ["#bde8b5", "#cbeec5", "#b3e6ac"]}}}},
    {"transform": [{"filter": "datum.k === 'g2'"}], "mark": {"type": "rule", "color": "#3fb83b", "strokeWidth": 1.2}, "encoding": {"y2": {"datum": 0}}},
    {"transform": [{"filter": "datum.k === 'hist'"}], "mark": {"type": "line", "color": "#000000", "strokeWidth": 0.8}, "encoding": {}},
    {"transform": [{"filter": "datum.k === 's' || datum.k === 'g1' || datum.k === 'g2'"}],
     "mark": {"type": "line", "interpolate": "monotone", "color": "#2eaa2e", "strokeWidth": 1.6}, "encoding": {"detail": {"field": "k", "type": "nominal"}}},
    {"transform": [{"filter": "datum.k === 'bar'"}], "mark": {"type": "rule", "color": "#111111", "strokeWidth": 1.5}, "encoding": {"x2": {"field": "x2"}}},
    {"transform": [{"filter": "datum.k === 'bar'"}], "mark": {"type": "point", "shape": "M0,-1L0,1", "size": 81, "filled": false, "stroke": "#111111", "strokeWidth": 1.5, "opacity": 1}, "encoding": {}},
    {"transform": [{"filter": "datum.k === 'bar'"}], "mark": {"type": "point", "shape": "M0,-1L0,1", "size": 81, "filled": false, "stroke": "#111111", "strokeWidth": 1.5, "opacity": 1},
     "encoding": {"x": {"field": "x2", "type": "quantitative", "title": "FL2-H: FL2-Height"}}},
    {"transform": [{"filter": "datum.k === 'lab'"}], "mark": {"type": "text", "align": "left", "baseline": "middle", "fontSize": 12.5, "font": "Liberation Sans", "color": "#111111"}, "encoding": {"text": {"field": "t", "type": "nominal"}}},
    {"transform": [{"filter": "datum.k === 'ttl'"}], "mark": {"type": "text", "align": "left", "baseline": "middle", "fontSize": 15, "font": "Liberation Sans", "color": "#111111"}, "encoding": {"text": {"field": "t", "type": "nominal"}}},
    {"transform": [{"filter": "datum.k === 'let'"}], "mark": {"type": "text", "align": "left", "baseline": "alphabetic", "fontSize": 20, "fontWeight": "bold", "font": "Liberation Sans", "color": "#000000"}, "encoding": {"text": {"field": "t", "type": "nominal"}}}
   ]},
  {"transform": [{"filter": "datum.p === 'd'"}], "width": 351, "height": 227,
   "encoding": {
    "x": {"field": "x", "type": "quantitative", "scale": {"domain": [0, 1024], "nice": false},
      "axis": {"title": "FL2-H: FL2-Height", "values": [0,50,100,150,200,250,300,350,400,450,500,550,600,650,700,750,800,850,900,950,1000], "format": "d",
        "labelExpr": "datum.value % 200 === 0 ? datum.label : ''",
        "tickSize": {"condition": {"test": "datum.value % 200 === 0", "value": 6}, "value": 3}}},
    "y": {"field": "y", "type": "quantitative", "scale": {"domain": [0, 750], "nice": false},
      "axis": {"title": null, "values": [0,50,100,150,200,250,300,350,400,450,500,550,600,650,700], "format": "d",
        "labelExpr": "datum.value % 200 === 0 ? datum.label : ''",
        "tickSize": {"condition": {"test": "datum.value % 200 === 0", "value": 6}, "value": 3}}}
   },
   "layer": [
    {"transform": [{"filter": "datum.k === 's' || datum.k === 'g1' || datum.k === 'g2'"}],
     "mark": {"type": "area", "interpolate": "monotone", "fillOpacity": 1},
     "encoding": {"y": {"field": "y", "type": "quantitative", "stack": null},
       "color": {"field": "k", "type": "nominal", "legend": null, "scale": {"domain": ["s", "g1", "g2"], "range": ["#bde8b5", "#cbeec5", "#b3e6ac"]}}}},
    {"transform": [{"filter": "datum.k === 'g2'"}], "mark": {"type": "rule", "color": "#3fb83b", "strokeWidth": 1.2}, "encoding": {"y2": {"datum": 0}}},
    {"transform": [{"filter": "datum.k === 'hist'"}], "mark": {"type": "line", "color": "#000000", "strokeWidth": 0.8}, "encoding": {}},
    {"transform": [{"filter": "datum.k === 's' || datum.k === 'g1' || datum.k === 'g2'"}],
     "mark": {"type": "line", "interpolate": "monotone", "color": "#2eaa2e", "strokeWidth": 1.6}, "encoding": {"detail": {"field": "k", "type": "nominal"}}},
    {"transform": [{"filter": "datum.k === 'bar'"}], "mark": {"type": "rule", "color": "#111111", "strokeWidth": 1.5}, "encoding": {"x2": {"field": "x2"}}},
    {"transform": [{"filter": "datum.k === 'bar'"}], "mark": {"type": "point", "shape": "M0,-1L0,1", "size": 81, "filled": false, "stroke": "#111111", "strokeWidth": 1.5, "opacity": 1}, "encoding": {}},
    {"transform": [{"filter": "datum.k === 'bar'"}], "mark": {"type": "point", "shape": "M0,-1L0,1", "size": 81, "filled": false, "stroke": "#111111", "strokeWidth": 1.5, "opacity": 1},
     "encoding": {"x": {"field": "x2", "type": "quantitative", "title": "FL2-H: FL2-Height"}}},
    {"transform": [{"filter": "datum.k === 'lab'"}], "mark": {"type": "text", "align": "left", "baseline": "middle", "fontSize": 12.5, "font": "Liberation Sans", "color": "#111111"}, "encoding": {"text": {"field": "t", "type": "nominal"}}},
    {"transform": [{"filter": "datum.k === 'ttl'"}], "mark": {"type": "text", "align": "left", "baseline": "middle", "fontSize": 15, "font": "Liberation Sans", "color": "#111111"}, "encoding": {"text": {"field": "t", "type": "nominal"}}},
    {"transform": [{"filter": "datum.k === 'let'"}], "mark": {"type": "text", "align": "left", "baseline": "alphabetic", "fontSize": 20, "fontWeight": "bold", "font": "Liberation Sans", "color": "#000000"}, "encoding": {"text": {"field": "t", "type": "nominal"}}}
   ]}
 ]}
],
"config": {
  "view": {"stroke": "#222222", "strokeWidth": 1},
  "axis": {"grid": false, "domainColor": "#111111", "tickColor": "#111111", "labelFont": "Liberation Sans", "labelFontSize": 11, "labelColor": "#333333",
    "titleFont": "Liberation Sans", "titleFontSize": 8, "titleFontWeight": "normal", "titleColor": "#222222", "labelOverlap": false, "labelFlush": false},
  "axisX": {"labelPadding": 5, "titlePadding": 3},
  "axisY": {"labelPadding": 2}
}
}
